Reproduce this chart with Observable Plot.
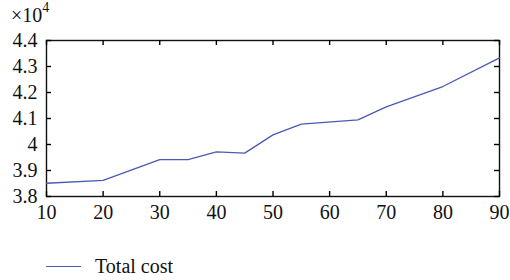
<!DOCTYPE html>
<html>
<head>
<meta charset="utf-8">
<script src="https://cdn.jsdelivr.net/npm/d3@7"></script>
<script src="https://cdn.jsdelivr.net/npm/@observablehq/plot@0.6"></script>
<style>
  html, body { margin: 0; padding: 0; background: #fff; }
  #wrap { position: relative; width: 510px; height: 280px; font-family: "Liberation Serif", "DejaVu Serif", serif; color: #111; }
  #expo { position: absolute; left: 11px; top: 5px; font-size: 20px; line-height: 1; }
  #expo sup { font-size: 14px; position: relative; top: -4px; vertical-align: top; }
  #legend { position: absolute; left: 46px; top: 255px; display: flex; align-items: center; font-size: 20px; }
  #legend .sw { width: 35px; height: 0; border-top: 1.3px solid #4a5ab4; margin-right: 14px; }
  svg { display: block; }
</style>
</head>
<body>
<div id="wrap">
  <div id="chart"></div>
  <div id="expo">×10<sup>4</sup></div>
  <div id="legend"><span class="sw"></span><span>Total cost</span></div>
</div>
<script>
const nodes = [10, 20, 30, 35, 40, 45, 50, 55, 65, 70, 80, 90];
const totalCost = [38510, 38620, 39420, 39420, 39720, 39670, 40370, 40780, 40950, 41450, 42230, 43330];
const xTicks = [10, 20, 30, 40, 50, 60, 70, 80, 90];
const yTicks = [38000, 39000, 40000, 41000, 42000, 43000, 44000];
const seriesName = "Total cost";

const data = nodes.map((x, i) => ({x, y: totalCost[i], series: seriesName}));
const fmtY = d => String(+(d / 1e4).toFixed(1));

const W = 510, H = 225, mL = 46, mR = 11, mT = 40, mB = 29, T = 5;
const xDom = [10, 90], yDom = [38000, 44000];
const fw = W - mL - mR, fh = H - mT - mB;
const dyT = (yDom[1] - yDom[0]) * T / fh;
const dxT = (xDom[1] - xDom[0]) * T / fw;
const tickStyle = {stroke: "#000", strokeWidth: 1.4};

const chart = Plot.plot({
  width: W,
  height: H,
  marginLeft: mL,
  marginRight: mR,
  marginTop: mT,
  marginBottom: mB,
  style: {fontFamily: "'Liberation Serif', 'DejaVu Serif', serif", fontSize: "20px", color: "#111", background: "white"},
  x: {domain: xDom},
  y: {domain: yDom},
  marks: [
    Plot.axisX(xTicks, {anchor: "bottom", tickSize: 0, tickPadding: 8, label: null, fontSize: 20}),
    Plot.axisY(yTicks, {anchor: "left", tickSize: 0, tickPadding: 9, label: null, tickFormat: fmtY, fontSize: 20}),
    Plot.frame({stroke: "#111", strokeWidth: 1.4}),
    Plot.line(data, {x: "x", y: "y", stroke: "#4a5ab4", strokeWidth: 1.3}),
    Plot.ruleX(xTicks, {x: d => d, y1: yDom[0], y2: yDom[0] + dyT, ...tickStyle}),
    Plot.ruleX(xTicks, {x: d => d, y1: yDom[1] - dyT, y2: yDom[1], ...tickStyle}),
    Plot.ruleY(yTicks, {y: d => d, x1: xDom[0], x2: xDom[0] + dxT, ...tickStyle}),
    Plot.ruleY(yTicks, {y: d => d, x1: xDom[1] - dxT, x2: xDom[1], ...tickStyle})
  ]
});
document.getElementById("chart").appendChild(chart);
</script>
</body>
</html>
